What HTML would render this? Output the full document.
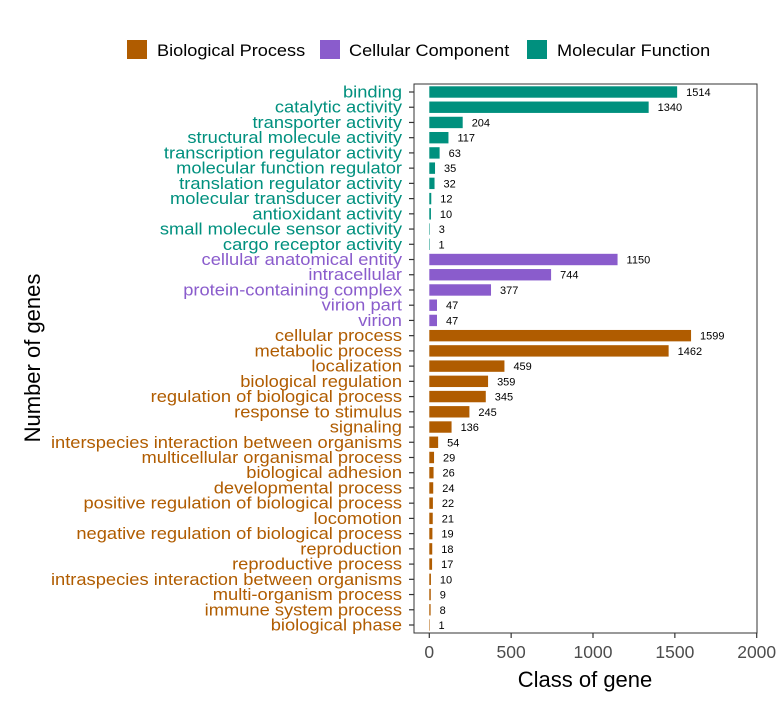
<!DOCTYPE html>
<html><head><meta charset="utf-8"><style>
body{margin:0;background:#fff;}
svg text{font-family:"Liberation Sans",Arial,sans-serif;}
</style></head><body>
<svg id="chart" width="779" height="704" xmlns="http://www.w3.org/2000/svg">
<g>
<rect x="127" y="40" width="20" height="19" fill="#b05c00"/>
<text x="157" y="56" font-size="16.5" fill="#000" transform="translate(157,0) scale(1.1,1) translate(-157,0)">Biological Process</text>
<rect x="320" y="40" width="20" height="19" fill="#8a5ccc"/>
<text x="349" y="56" font-size="16.5" fill="#000" transform="translate(349,0) scale(1.1,1) translate(-349,0)">Cellular Component</text>
<rect x="527" y="40" width="20" height="19" fill="#00907e"/>
<text x="557" y="56" font-size="16.5" fill="#000" transform="translate(557,0) scale(1.1,1) translate(-557,0)">Molecular Function</text>
</g>
<rect x="414" y="84" width="343" height="549" fill="none" stroke="#333" stroke-width="1"/>
<g id="bars"></g>
<text transform="translate(40,358) rotate(-90)" text-anchor="middle" font-size="22" fill="#000">Number of genes</text>
<text x="585" y="687" text-anchor="middle" font-size="22" fill="#000">Class of gene</text>
</svg>
<script>
const categories=["binding","catalytic activity","transporter activity","structural molecule activity","transcription regulator activity","molecular function regulator","translation regulator activity","molecular transducer activity","antioxidant activity","small molecule sensor activity","cargo receptor activity","cellular anatomical entity","intracellular","protein-containing complex","virion part","virion","cellular process","metabolic process","localization","biological regulation","regulation of biological process","response to stimulus","signaling","interspecies interaction between organisms","multicellular organismal process","biological adhesion","developmental process","positive regulation of biological process","locomotion","negative regulation of biological process","reproduction","reproductive process","intraspecies interaction between organisms","multi-organism process","immune system process","biological phase"];
const values=[1514,1340,204,117,63,35,32,12,10,3,1,1150,744,377,47,47,1599,1462,459,359,345,245,136,54,29,26,24,22,21,19,18,17,10,9,8,1];
const groups=["MF","MF","MF","MF","MF","MF","MF","MF","MF","MF","MF","CC","CC","CC","CC","CC","BP","BP","BP","BP","BP","BP","BP","BP","BP","BP","BP","BP","BP","BP","BP","BP","BP","BP","BP","BP"];
const xTicks=[0,500,1000,1500,2000];
const colors={MF:"#00907e",CC:"#8a5ccc",BP:"#b05c00"};
const x0=429.3,xs=(756.7-429.3)/2000;
const X=v=>x0+v*xs;
const Y=i=>92+i*(625-92)/(categories.length-1);
const NS="http://www.w3.org/2000/svg";
const g=document.getElementById('bars');
function mk(t,a){const e=document.createElementNS(NS,t);for(const k in a)e.setAttribute(k,a[k]);g.appendChild(e);return e;}
categories.forEach((c,i)=>{
  const y=Y(i),col=colors[groups[i]];
  const r=mk('rect',{x:X(0),y:y-5.7,width:Math.max(X(values[i])-X(0),0.5),height:11.4,fill:col});
  
  
  const v=mk('text',{x:X(values[i])+9,y:y+4,'font-size':11,fill:'#000'});
  v.textContent=values[i];
  
  
  const l=mk('text',{x:0,y:5.5,'font-size':16.5,fill:col,'text-anchor':'end',transform:'translate(402,'+y+') scale(1.11,1)'});
  l.textContent=c;
  
  
  const t=mk('line',{x1:409,x2:414,y1:y,y2:y,stroke:'#333','stroke-width':1.2});
  
  
});
xTicks.forEach(v=>{
  const t=mk('line',{x1:X(v),x2:X(v),y1:633,y2:638,stroke:'#333','stroke-width':1.2});
  
  
  const l=mk('text',{x:X(v),y:658,'font-size':17.5,fill:'#4d4d4d','text-anchor':'middle'});
  l.textContent=v;
  
  
});
</script>
</body></html>
